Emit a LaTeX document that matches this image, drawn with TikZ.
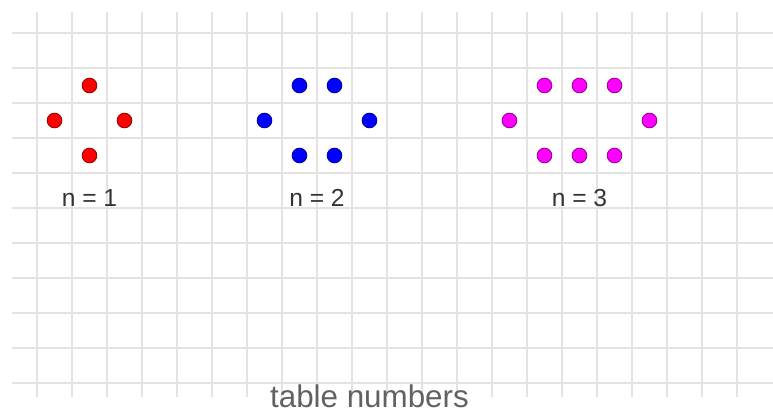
\documentclass[tikz,border=0pt]{standalone}
\usepackage{fontspec}
\setmainfont{Liberation Sans}
\definecolor{puremag}{RGB}{255,0,255}
\definecolor{puremagdark}{RGB}{150,0,150}
\begin{document}
\begin{tikzpicture}[x=1cm,y=1cm,
  gridline/.style={gray!22, line width=2.3pt},
  dot/.style={circle, inner sep=0pt, minimum size=0.42cm, line width=0.7pt},
  reddot/.style={dot, fill=red, draw=red!60!black},
  bluedot/.style={dot, fill=blue, draw=blue!60!black},
  magdot/.style={dot, fill=puremag, draw=puremagdark},
  lbl/.style={anchor=base, font=\fontsize{20}{24}\selectfont, text=black!80},
  caption/.style={anchor=base, font=\fontsize{25.5}{30}\selectfont, text=black!62}
]
\useasboundingbox (-1.057,-0.857) rectangle (21.029,10.943);
\foreach \x in {0,...,20} \draw[gridline] (\x,-0.4) -- (\x,10.6);
\foreach \y in {0,...,10} \draw[gridline] (-0.7,\y) -- (21.029,\y);

% n = 1
\node[reddot] (r1) at (1.5,8.5) {};
\node[reddot] (r2) at (0.5,7.5) {};
\node[reddot] (r3) at (2.5,7.5) {};
\node[reddot] (r4) at (1.5,6.5) {};
\node[lbl] (l1) at (1.5,5.05) {n = 1};

% n = 2
\node[bluedot] (b1) at (7.5,8.5) {};
\node[bluedot] (b2) at (8.5,8.5) {};
\node[bluedot] (b3) at (6.5,7.5) {};
\node[bluedot] (b4) at (9.5,7.5) {};
\node[bluedot] (b5) at (7.5,6.5) {};
\node[bluedot] (b6) at (8.5,6.5) {};
\node[lbl] (l2) at (8,5.05) {n = 2};

% n = 3
\node[magdot] (m1) at (14.5,8.5) {};
\node[magdot] (m2) at (15.5,8.5) {};
\node[magdot] (m3) at (16.5,8.5) {};
\node[magdot] (m4) at (13.5,7.5) {};
\node[magdot] (m5) at (17.5,7.5) {};
\node[magdot] (m6) at (14.5,6.5) {};
\node[magdot] (m7) at (15.5,6.5) {};
\node[magdot] (m8) at (16.5,6.5) {};
\node[lbl] (l3) at (15.5,5.05) {n = 3};

\node[caption] (cap) at (9.5,-0.71) {table numbers};
\end{tikzpicture}
\end{document}
